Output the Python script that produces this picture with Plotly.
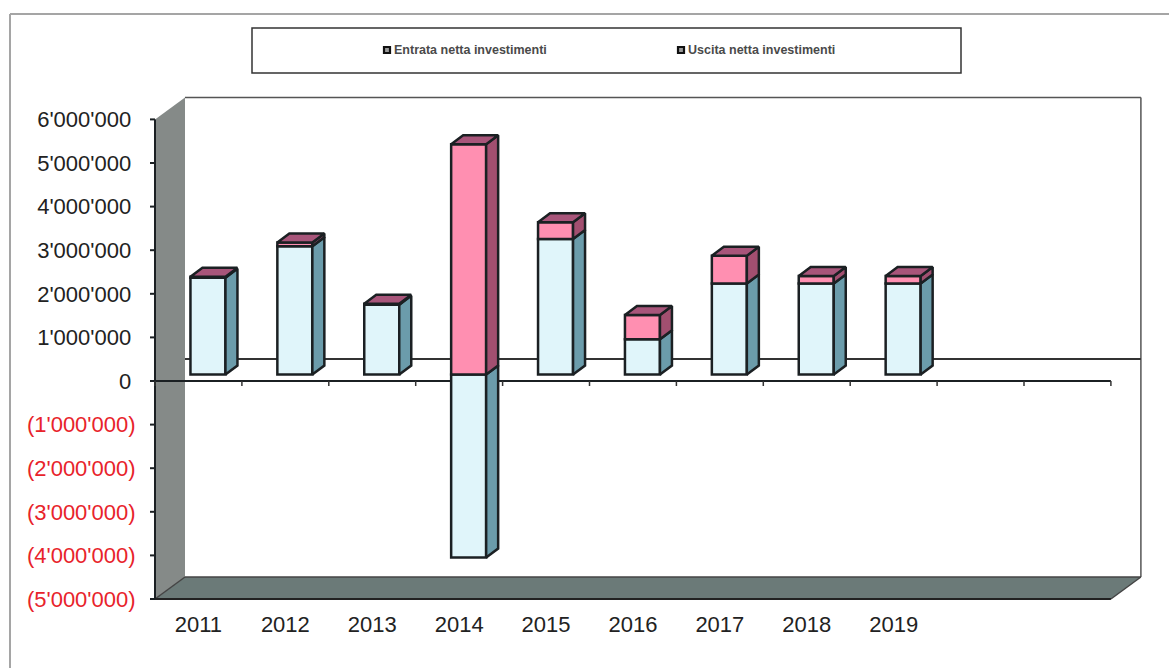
import plotly.graph_objects as go

years = ["2011", "2012", "2013", "2014", "2015", "2016", "2017", "2018", "2019"]
entrata = [2220000, 2940000, 1600000, -4200000, 3110000, 807000, 2090000, 2090000, 2090000]
uscita = [20000, 90000, 20000, 5280000, 380000, 558000, 635000, 170000, 170000]
y_ticks = [6000000, 5000000, 4000000, 3000000, 2000000, 1000000, 0,
           -1000000, -2000000, -3000000, -4000000, -5000000]
y_labels = ["6'000'000", "5'000'000", "4'000'000", "3'000'000", "2'000'000", "1'000'000", "0",
            "(1'000'000)", "(2'000'000)", "(3'000'000)", "(4'000'000)", "(5'000'000)"]
legend_names = ["Entrata netta investimenti", "Uscita netta investimenti"]

N_SLOTS = 11
PX_X = 86.9        # pixels per category
PX_Y = 43.6 / 1e6  # pixels per unit
L, R, T, B = 150, 1143, 95, 602
ORIGIN_X, ZERO_Y = 155, 381
WALL_DX, WALL_DY = 30 / PX_X, 22 / PX_Y
BAR_SHIFT_X, BAR_SHIFT_Y = 9.5 / PX_X, 6.5 / PX_Y
BAR_W = 35 / PX_X
DEPTH_X, DEPTH_Y = 12 / PX_X, 9 / PX_Y
INK = "#1b2023"
LIGHT, TEAL = "#e0f5fa", "#6b9cab"
PINK, PINK_SIDE, PINK_TOP = "#ff8fb1", "#a24f70", "#a8557a"
WALL, FLOOR = "#858a88", "#6b7a78"
TEXT, NEG = "#222222", "#e8232b"
FONT = "Liberation Sans"

px = lambda x: (x - L) / (R - L)
py = lambda y: (B - y) / (B - T)

y_min, y_max = y_ticks[-1], y_ticks[0]
shapes = []


def seg(x0, y0, x1, y1, color=INK, width=2):
    shapes.append(dict(type="line", xref="x", yref="y", x0=x0, y0=y0, x1=x1, y1=y1,
                       layer="below", line=dict(color=color, width=width)))


def poly(points, fill):
    d = "M" + " L".join(f"{a},{b}" for a, b in points) + " Z"
    shapes.append(dict(type="path", xref="x", yref="y", path=d, fillcolor=fill,
                       layer="below", line=dict(color=fill, width=0)))


# side wall and floor
poly([(0, y_max), (WALL_DX, y_max + WALL_DY), (WALL_DX, y_min + WALL_DY), (0, y_min)], WALL)
poly([(0, y_min), (WALL_DX, y_min + WALL_DY), (N_SLOTS + WALL_DX, y_min + WALL_DY), (N_SLOTS, y_min)], FLOOR)
# back wall outline, back zero line
seg(WALL_DX, y_max + WALL_DY, N_SLOTS + WALL_DX, y_max + WALL_DY, "#555555", 1.5)
seg(N_SLOTS + WALL_DX, y_max + WALL_DY, N_SLOTS + WALL_DX, y_min + WALL_DY, "#555555", 1.5)
seg(WALL_DX, y_min + WALL_DY, N_SLOTS + WALL_DX, y_min + WALL_DY, "#444444", 1.5)
seg(0, y_min, WALL_DX, y_min + WALL_DY, "#444444", 1.5)
seg(N_SLOTS, y_min, N_SLOTS + WALL_DX, y_min + WALL_DY, "#444444", 1.5)
seg(WALL_DX, WALL_DY, N_SLOTS + WALL_DX, WALL_DY, "#333333", 2)
# front axes and ticks
seg(0, y_min, N_SLOTS, y_min, "#222222", 2)
seg(0, y_min, 0, y_max)
seg(0, 0, N_SLOTS, 0)
for t in y_ticks:
    seg(-5 / PX_X, t, 0, t)
for i in range(N_SLOTS + 1):
    seg(i, 0, i, -5 / PX_Y, "#333333", 1.5)

# legend box and keys
shapes.append(dict(type="rect", xref="paper", yref="paper", x0=px(252), x1=px(961), y0=py(73), y1=py(28),
                   fillcolor="white", line=dict(color="#333333", width=1.5)))
for kx in (387, 681):
    shapes.append(dict(type="rect", xref="paper", yref="paper", x0=px(kx - 3), x1=px(kx + 3),
                       y0=py(53), y1=py(47), fillcolor="#9a9a9a", line=dict(color="#111111", width=2.2)))
# page frame
shapes.append(dict(type="line", xref="paper", yref="paper", x0=px(10), x1=px(1169), y0=py(14), y1=py(14),
                   line=dict(color="#a5a5a5", width=2)))
shapes.append(dict(type="line", xref="paper", yref="paper", x0=px(10), x1=px(10), y0=py(14), y1=py(668),
                   line=dict(color="#a5a5a5", width=2)))

centers = [i + 0.5 + BAR_SHIFT_X for i in range(len(years))]
ent_base = [BAR_SHIFT_Y] * len(years)
usc_base = [BAR_SHIFT_Y + max(e, 0) for e in entrata]

fig = go.Figure()
bar_line = dict(color=INK, width=2.5)
fig.add_bar(x=centers, y=entrata, base=ent_base, width=BAR_W, name=legend_names[0],
            marker=dict(color=LIGHT, line=bar_line))
fig.add_bar(x=centers, y=uscita, base=usc_base, width=BAR_W, name=legend_names[1],
            marker=dict(color=PINK, line=bar_line))


def faces(rects, color, name):
    xs, ys = [], []
    for pts in rects:
        xs += [p[0] for p in pts] + [pts[0][0], None]
        ys += [p[1] for p in pts] + [pts[0][1], None]
    fig.add_scatter(x=xs, y=ys, mode="lines", fill="toself", fillcolor=color,
                    line=dict(color=INK, width=2.5), name=name, showlegend=False, hoverinfo="skip")


ent_sides, usc_sides, tops = [], [], []
for c, e, u in zip(centers, entrata, uscita):
    left, right = c - BAR_W / 2, c + BAR_W / 2
    y0, y1 = BAR_SHIFT_Y, BAR_SHIFT_Y + e
    ent_sides.append([(right, y0), (right + DEPTH_X, y0 + DEPTH_Y),
                      (right + DEPTH_X, y1 + DEPTH_Y), (right, y1)])
    b = BAR_SHIFT_Y + max(e, 0)
    top = b + u
    usc_sides.append([(right, b), (right + DEPTH_X, b + DEPTH_Y),
                      (right + DEPTH_X, top + DEPTH_Y), (right, top)])
    tops.append([(left, top), (left + DEPTH_X, top + DEPTH_Y),
                 (right + DEPTH_X, top + DEPTH_Y), (right, top)])

faces(ent_sides, TEAL, "side entrata")
faces(usc_sides, PINK_SIDE, "side uscita")
faces(tops, PINK_TOP, "top uscita")

ticktext = [f'<span style="color:{NEG}">{s}</span>' if s.startswith("(") else s + "\u2009"
            for s in y_labels]

annotations = [
    dict(xref="paper", yref="paper", x=px(tx), y=py(50), text=f"<b>{t}</b>", showarrow=False, xanchor="left",
         yanchor="middle", xshift=-1, font=dict(family=FONT, size=12.5, color="#4a4a4a"))
    for tx, t in zip((393, 687), legend_names)
]

fig.update_layout(
    width=1169, height=668, autosize=False, showlegend=False, barmode="overlay",
    margin=dict(l=L, r=1169 - R, t=T, b=668 - B, pad=0),
    paper_bgcolor="white", plot_bgcolor="white", shapes=shapes, annotations=annotations,
    font=dict(family=FONT, color=TEXT),
    xaxis=dict(range=[-5 / PX_X, (R - ORIGIN_X) / PX_X], showgrid=False, zeroline=False, showline=False,
               tickmode="array", tickvals=[i + 0.5 for i in range(len(years))], ticktext=years,
               ticks="outside", ticklen=3, tickcolor="rgba(0,0,0,0)", tickfont=dict(size=22, color=TEXT, family=FONT)),
    yaxis=dict(range=[(ZERO_Y - B) / PX_Y, (ZERO_Y - T) / PX_Y], showgrid=False, zeroline=False, showline=False,
               tickmode="array", tickvals=y_ticks, ticktext=ticktext,
               ticks="outside", ticklen=9, tickcolor="rgba(0,0,0,0)", tickfont=dict(size=22, color=TEXT, family=FONT)),
)

fig.write_html("out.html", post_script="document.body.style.margin='0';",
               config=dict(displayModeBar=False))
